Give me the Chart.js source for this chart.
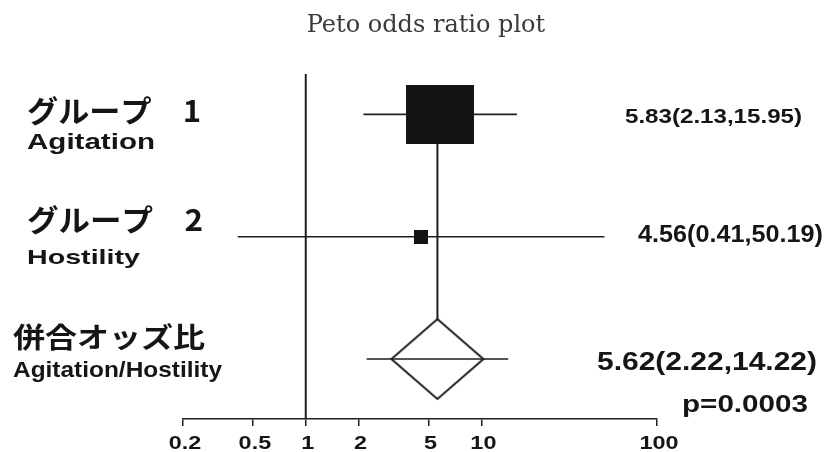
<!DOCTYPE html>
<html><head><meta charset="utf-8">
<script src="https://cdn.jsdelivr.net/npm/chart.js@4"></script>
<style>html,body{margin:0;padding:0;background:#fff;}#wrap{width:835px;height:452px;position:relative;}</style>
</head><body><div id="wrap"><canvas id="c" width="835" height="452"></canvas></div>
<script>
// ---- data ----
const studyNamesJa = ['グループ　1', 'グループ　2', '併合オッズ比'];
const studyNamesEn = ['Agitation', 'Hostility', 'Agitation/Hostility'];
const oddsRatios = [5.83, 4.56, 5.62];
const ciLower = [2.13, 0.41, 2.22];
const ciUpper = [15.95, 50.19, 14.22];
const rowPositions = [3, 2, 1];
const xTickValues = [0.2, 0.5, 1, 2, 5, 10, 100];
const pValueText = 'p=0.0003';
const titleText = 'Peto odds ratio plot';
const nullValue = 1;
const X_MIN = 0.2, X_MAX = 100, Y_MIN = 0.51, Y_MAX = 3.33;

const INK = '#1e1e1e';
function makeRect(w, h) {
  const c = document.createElement('canvas'); c.width = w; c.height = h;
  const g = c.getContext('2d'); g.fillStyle = '#141414'; g.fillRect(0, 0, w, h); return c;
}
function makeDiamond(w, h) {
  const c = document.createElement('canvas'); c.width = w + 4; c.height = h + 4;
  const g = c.getContext('2d');
  g.beginPath(); g.moveTo(2, h / 2 + 2); g.lineTo(w / 2 + 2, 2); g.lineTo(w + 2, h / 2 + 2); g.lineTo(w / 2 + 2, h + 2); g.closePath();
  g.fillStyle = '#fff'; g.fill(); g.lineWidth = 2; g.strokeStyle = INK; g.stroke(); return c;
}
const squareImgs = [makeRect(68, 59), makeRect(14, 14)];
const diamondImg = makeDiamond(92, 80);

const estimateLabels = oddsRatios.map((o, i) => `${o.toFixed(2)}(${ciLower[i].toFixed(2)},${ciUpper[i].toFixed(2)})`);

const datasets = [];
rowPositions.forEach((r, i) => datasets.push({
  type: 'line', data: [{x: ciLower[i], y: r}, {x: ciUpper[i], y: r}],
  borderColor: INK, borderWidth: 1.6, pointRadius: 0, order: i === 2 ? 0 : 5
}));
datasets.push({type: 'line', data: [{x: nullValue, y: Y_MIN}, {x: nullValue, y: Y_MAX}],
  borderColor: INK, borderWidth: 2, pointRadius: 0, order: 6});
datasets.push({type: 'line', data: [{x: oddsRatios[2], y: rowPositions[0]}, {x: oddsRatios[2], y: rowPositions[2]}],
  borderColor: INK, borderWidth: 2, pointRadius: 0, order: 6});
datasets.push({type: 'scatter', data: [0, 1].map(i => ({x: oddsRatios[i], y: rowPositions[i]})),
  pointStyle: ctx => squareImgs[ctx.dataIndex], pointRadius: 3, order: 3});
datasets.push({type: 'scatter', data: [{x: oddsRatios[2], y: rowPositions[2]}],
  pointStyle: diamondImg, pointRadius: 3, order: 2});

function fitText(ctx, text, x, y, font, width, align) {
  ctx.save();
  ctx.font = font; ctx.textBaseline = 'alphabetic'; ctx.textAlign = align || 'left';
  const m = ctx.measureText(text).width;
  ctx.translate(x, y); ctx.scale(width / m, 1);
  ctx.fillText(text, 0, 0);
  ctx.restore();
}
const SANS = "'Liberation Sans', Arial, sans-serif";
const JP = "'Noto Sans CJK JP', sans-serif";
const labelPlugin = {
  id: 'labels',
  afterDraw(chart) {
    const ctx = chart.ctx;
    ctx.fillStyle = '#3a3a3a';
    ctx.save(); ctx.font = "24px 'DejaVu Serif'"; ctx.textAlign = 'center'; ctx.textBaseline = 'alphabetic';
    ctx.fillText(titleText, 426, 32); ctx.restore();
    ctx.fillStyle = '#151515';
    // x tick labels, placed by the library's x scale
    const xs = chart.scales.x;
    xs.ticks.forEach(t => {
      const label = String(t.value);
      ctx.save(); ctx.font = 'bold 18px ' + SANS;
      const w = ctx.measureText(label).width; ctx.restore();
      fitText(ctx, label, xs.getPixelForValue(t.value) + 2, 449, 'bold 18px ' + SANS, w * 1.3, 'center');
    });
    // left labels
    fitText(ctx, studyNamesJa[0], 27, 122, 'bold 30px ' + JP, 174);
    fitText(ctx, studyNamesEn[0], 27, 149, 'bold 22px ' + SANS, 128);
    fitText(ctx, studyNamesJa[1], 27, 231, 'bold 30px ' + JP, 176);
    fitText(ctx, studyNamesEn[1], 27, 264, 'bold 21px ' + SANS, 113);
    fitText(ctx, studyNamesJa[2], 13, 348, 'bold 28px ' + JP, 192);
    fitText(ctx, studyNamesEn[2], 13, 377, 'bold 22px ' + SANS, 209);
    // right estimates
    fitText(ctx, estimateLabels[0], 625, 123, 'bold 21px ' + SANS, 177);
    fitText(ctx, estimateLabels[1], 638, 242, 'bold 23px ' + SANS, 185);
    fitText(ctx, estimateLabels[2], 597, 370, 'bold 25px ' + SANS, 220);
    fitText(ctx, pValueText, 682, 412, 'bold 24px ' + SANS, 126);
  }
};

new Chart(document.getElementById('c'), {
  data: {datasets},
  options: {
    responsive: false, animation: false, events: [],
    layout: {padding: {left: 183, right: 178, top: 74, bottom: 0}},
    plugins: {legend: {display: false}, tooltip: {enabled: false}, title: {display: false}},
    scales: {
      x: {type: 'logarithmic', min: X_MIN, max: X_MAX, position: 'bottom',
        afterBuildTicks: s => { s.ticks = xTickValues.map(v => ({value: v})); },
        afterFit: s => { s.height = 33; },
        grid: {drawOnChartArea: false, drawTicks: true, tickLength: 7, color: INK, lineWidth: 1.5},
        border: {display: true, color: INK, width: 1.5},
        ticks: {autoSkip: false, maxRotation: 0, minRotation: 0, padding: 7, color: 'rgba(0,0,0,0)',
          font: {family: SANS, size: 18, weight: 'bold'},
          callback: v => String(v)}
      },
      y: {type: 'linear', min: Y_MIN, max: Y_MAX, display: false}
    }
  },
  plugins: [labelPlugin]
});
</script></body></html>
